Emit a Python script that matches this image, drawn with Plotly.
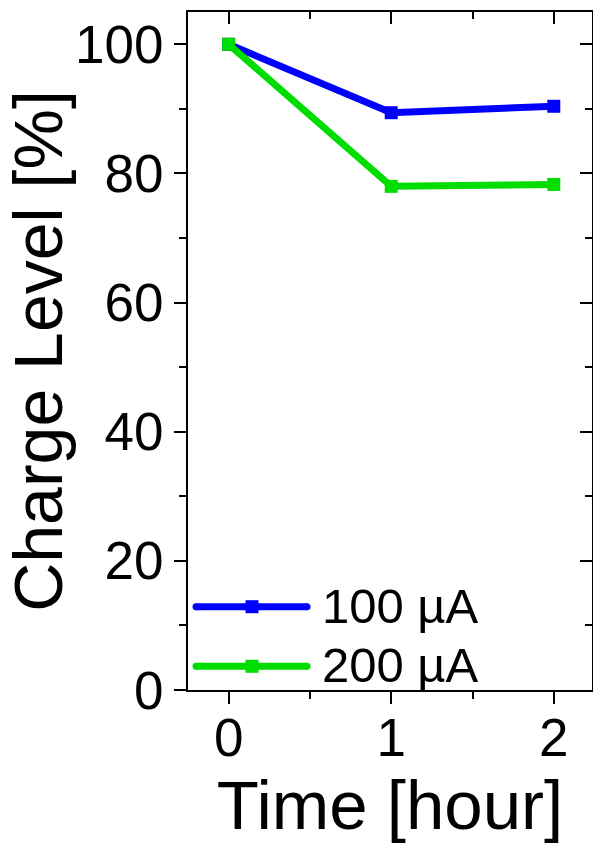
import plotly.graph_objects as go

# ---- data ----
time_hours = [0, 1, 2]
charge_100uA = [100, 89.4, 90.4]
charge_200uA = [100, 78.0, 78.3]
series_names = ["100 µA", "200 µA"]
series_colors = ["#0000FF", "#00DD00"]

W, H = 593, 849
ML, MR, MT, MB = 188, 1, 12, 159
FONT = "Liberation Sans, Arial, sans-serif"

fig = go.Figure()
for yvals, name, col in zip([charge_100uA, charge_200uA], series_names, series_colors):
    fig.add_trace(go.Scatter(
        x=time_hours, y=yvals, name=name, mode="lines+markers",
        line=dict(color=col, width=7),
        marker=dict(symbol="square", size=13, color=col),
        showlegend=False,
    ))

# invisible trace for mirror axes
fig.add_trace(go.Scatter(x=[0], y=[0], xaxis="x2", yaxis="y2", mode="markers",
                         marker=dict(opacity=0), showlegend=False, hoverinfo="skip"))

xr = [-0.25, 2.235]
yr = [0, 105]
common = dict(showline=True, linecolor="black", linewidth=2, ticks="outside",
              tickwidth=2, ticklen=12, tickcolor="black", showgrid=False, zeroline=False,
              tickfont=dict(family=FONT, size=53, color="black"))

fig.update_layout(
    width=W, height=H,
    margin=dict(l=ML, r=MR, t=MT, b=MB),
    plot_bgcolor="white", paper_bgcolor="white",
    font=dict(family=FONT, color="black"),
    xaxis=dict(range=xr, dtick=1, tick0=0, ticklabelstandoff=-12,
               minor=dict(dtick=0.5, ticks="outside", ticklen=7, tickwidth=2, tickcolor="black"),
               title=dict(text="Time [hour]", font=dict(family=FONT, size=69), standoff=12),
               **common),
    yaxis=dict(range=yr, dtick=20, tick0=0,
               minor=dict(dtick=10, ticks="outside", ticklen=7, tickwidth=2, tickcolor="black"),
               title=dict(text="Charge Level [%]", font=dict(family=FONT, size=68), standoff=8),
               **common),
    xaxis2=dict(range=xr, dtick=1, tick0=0, overlaying="x", side="top", anchor="y",
                showline=True, linecolor="black", linewidth=2, ticks="inside", ticklen=12,
                tickwidth=2, tickcolor="black", showticklabels=False, showgrid=False, zeroline=False,
                minor=dict(dtick=0.5, ticks="inside", ticklen=7, tickwidth=2, tickcolor="black")),
    yaxis2=dict(range=yr, dtick=20, tick0=0, overlaying="y", side="right", anchor="x",
                showline=True, linecolor="black", linewidth=2, ticks="inside", ticklen=12,
                tickwidth=2, tickcolor="black", showticklabels=False, showgrid=False, zeroline=False,
                minor=dict(dtick=10, ticks="inside", ticklen=7, tickwidth=2, tickcolor="black")),
)

# ---- manual legend (pixel -> paper) ----
pw, ph = W - ML - MR, H - MT - MB
def px(x):
    return (x - ML) / pw
def py(y):
    return (H - MB - y) / ph

leg_rows = [606.7, 666.3]
for row_y, name, col in zip(leg_rows, series_names, series_colors):
    fig.add_shape(type="line", xref="paper", yref="paper",
                  x0=px(196), x1=px(307), y0=py(row_y), y1=py(row_y),
                  line=dict(color=col, width=7))
    fig.add_shape(type="rect", xref="paper", yref="paper",
                  x0=px(245.5), x1=px(258.5), y0=py(row_y - 6.5), y1=py(row_y + 6.5),
                  line=dict(width=0), fillcolor=col)
    fig.add_annotation(xref="paper", yref="paper", x=px(320), y=py(row_y - 1),
                       text=name, showarrow=False, xanchor="left", yanchor="middle",
                       font=dict(family=FONT, size=49, color="black"))
# round caps for legend lines
for row_y, col in zip(leg_rows, series_colors):
    for cx in (196, 307):
        fig.add_shape(type="circle", xref="paper", yref="paper",
                      x0=px(cx - 3.5), x1=px(cx + 3.5), y0=py(row_y - 3.5), y1=py(row_y + 3.5),
                      line=dict(width=0), fillcolor=col)

fig.write_html("out.html")
